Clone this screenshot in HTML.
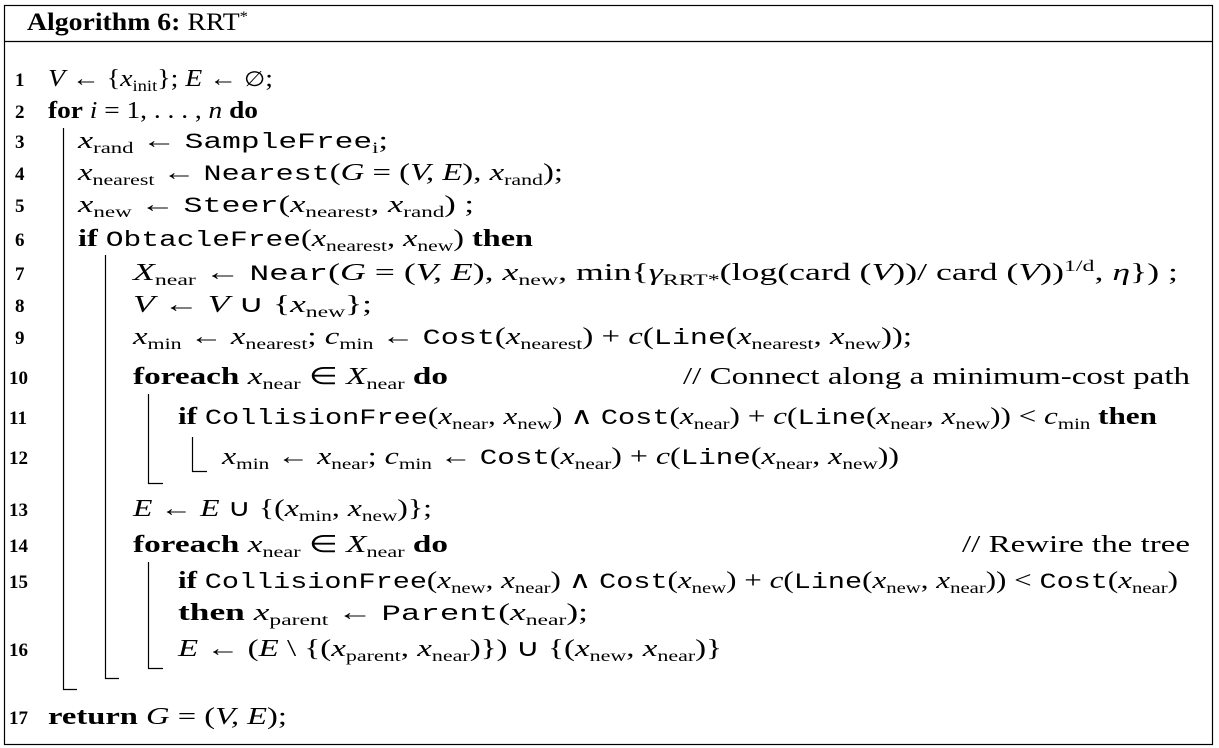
<!DOCTYPE html>
<html><head><meta charset="utf-8"><style>
html,body{margin:0;padding:0;background:#fff;}
svg{display:block}
text{font-family:"Liberation Serif",serif;font-size:24px;fill:#000}
.m{font-style:italic}
.t{font-family:"Liberation Mono",monospace;font-style:normal;font-size:22px}
.b{font-weight:bold;font-style:normal}
.r{font-style:normal}
.s{font-size:16px;font-style:normal}
.n{font-weight:bold;font-size:19px}
.e{font-family:"DejaVu Serif",serif;font-size:21px}
</style></head><body>
<svg width="1219" height="748" viewBox="0 0 1219 748" xmlns="http://www.w3.org/2000/svg">
<rect x="4.5" y="5.5" width="1208" height="739" fill="none" stroke="#000" stroke-width="1.2"/>
<line x1="4" y1="41.5" x2="1213" y2="41.5" stroke="#000" stroke-width="1.2"/>
<g stroke="#000" stroke-width="1.2" fill="none">
<polyline points="63.5,128 63.5,689.5 77,689.5"/>
<polyline points="105.5,255 105.5,678.5 119,678.5"/>
<polyline points="148.5,394 148.5,483.5 163,483.5"/>
<polyline points="192.5,437 192.5,471.5 207,471.5"/>
<polyline points="148.5,562 148.5,668.5 163,668.5"/>
</g>
<text x="27" y="30" style="font-size:25px" textLength="221" lengthAdjust="spacingAndGlyphs"><tspan class="b">Algorithm 6:</tspan> RRT<tspan dy="-9" font-size="15">*</tspan></text>

<text class="n" x="15" y="86">1</text>
<text class="n" x="15" y="118">2</text>
<text class="n" x="15" y="148">3</text>
<text class="n" x="15" y="180">4</text>
<text class="n" x="15" y="212">5</text>
<text class="n" x="15" y="246">6</text>
<text class="n" x="15" y="280">7</text>
<text class="n" x="15" y="312">8</text>
<text class="n" x="15" y="344">9</text>
<text class="n" x="9" y="384">10</text>
<text class="n" x="9" y="424">11</text>
<text class="n" x="9" y="464">12</text>
<text class="n" x="9" y="516">13</text>
<text class="n" x="9" y="552">14</text>
<text class="n" x="9" y="588">15</text>
<text class="n" x="9" y="656">16</text>
<text class="n" x="9" y="724">17</text>

<text x="48" y="86" textLength="225" lengthAdjust="spacingAndGlyphs"><tspan class="m">V</tspan> ← {<tspan class="m">x</tspan><tspan class="s" dy="5">init</tspan><tspan dy="-5">}; </tspan><tspan class="m">E</tspan> ← <tspan class="e">∅</tspan>;</text>
<text x="48" y="118" textLength="210" lengthAdjust="spacingAndGlyphs"><tspan class="b">for</tspan> <tspan class="m">i</tspan> = 1, . . . , <tspan class="m">n</tspan> <tspan class="b">do</tspan></text>
<text x="78" y="148" textLength="310" lengthAdjust="spacingAndGlyphs"><tspan class="m">x</tspan><tspan class="s" dy="5">rand</tspan><tspan dy="-5"> ← </tspan><tspan class="t">SampleFree</tspan><tspan class="s m" dy="5">i</tspan><tspan dy="-5">;</tspan></text>
<text x="78" y="180" textLength="485" lengthAdjust="spacingAndGlyphs"><tspan class="m">x</tspan><tspan class="s" dy="5">nearest</tspan><tspan dy="-5"> ← </tspan><tspan class="t">Nearest</tspan>(<tspan class="m">G</tspan> = (<tspan class="m">V, E</tspan>), <tspan class="m">x</tspan><tspan class="s" dy="5">rand</tspan><tspan dy="-5">);</tspan></text>
<text x="78" y="212" textLength="396" lengthAdjust="spacingAndGlyphs"><tspan class="m">x</tspan><tspan class="s" dy="5">new</tspan><tspan dy="-5"> ← </tspan><tspan class="t">Steer</tspan>(<tspan class="m">x</tspan><tspan class="s" dy="5">nearest</tspan><tspan dy="-5">, </tspan><tspan class="m">x</tspan><tspan class="s" dy="5">rand</tspan><tspan dy="-5">) ;</tspan></text>
<text x="78" y="246" textLength="455" lengthAdjust="spacingAndGlyphs"><tspan class="b">if</tspan> <tspan class="t">ObtacleFree</tspan>(<tspan class="m">x</tspan><tspan class="s" dy="5">nearest</tspan><tspan dy="-5">, </tspan><tspan class="m">x</tspan><tspan class="s" dy="5">new</tspan><tspan dy="-5">) </tspan><tspan class="b">then</tspan></text>
<text x="133" y="280" textLength="1045" lengthAdjust="spacingAndGlyphs"><tspan class="m">X</tspan><tspan class="s" dy="5">near</tspan><tspan dy="-5"> ← </tspan><tspan class="t">Near</tspan>(<tspan class="m">G</tspan> = (<tspan class="m">V, E</tspan>), <tspan class="m">x</tspan><tspan class="s" dy="5">new</tspan><tspan dy="-5">, min{</tspan><tspan class="m">γ</tspan><tspan class="s" dy="5">RRT*</tspan><tspan dy="-5">(log(card (</tspan><tspan class="m">V</tspan>))/ card (<tspan class="m">V</tspan>))<tspan class="s" dy="-9">1/</tspan><tspan class="s m">d</tspan><tspan dy="9">, </tspan><tspan class="m">η</tspan>}) ;</text>
<text x="133" y="312" textLength="239" lengthAdjust="spacingAndGlyphs"><tspan class="m">V</tspan> ← <tspan class="m">V</tspan> ∪ {<tspan class="m">x</tspan><tspan class="s" dy="5">new</tspan><tspan dy="-5">};</tspan></text>
<text x="133" y="344" textLength="779" lengthAdjust="spacingAndGlyphs"><tspan class="m">x</tspan><tspan class="s" dy="5">min</tspan><tspan dy="-5"> ← </tspan><tspan class="m">x</tspan><tspan class="s" dy="5">nearest</tspan><tspan dy="-5">; </tspan><tspan class="m">c</tspan><tspan class="s" dy="5">min</tspan><tspan dy="-5"> ← </tspan><tspan class="t">Cost</tspan>(<tspan class="m">x</tspan><tspan class="s" dy="5">nearest</tspan><tspan dy="-5">) + </tspan><tspan class="m">c</tspan>(<tspan class="t">Line</tspan>(<tspan class="m">x</tspan><tspan class="s" dy="5">nearest</tspan><tspan dy="-5">, </tspan><tspan class="m">x</tspan><tspan class="s" dy="5">new</tspan><tspan dy="-5">));</tspan></text>
<text x="133" y="384" textLength="315" lengthAdjust="spacingAndGlyphs"><tspan class="b">foreach</tspan> <tspan class="m">x</tspan><tspan class="s" dy="5">near</tspan><tspan dy="-5"> ∈ </tspan><tspan class="m">X</tspan><tspan class="s" dy="5">near</tspan><tspan dy="-5"> </tspan><tspan class="b">do</tspan></text>
<text x="683" y="384" textLength="507" lengthAdjust="spacingAndGlyphs">// Connect along a minimum-cost path</text>
<text x="178" y="424" textLength="979" lengthAdjust="spacingAndGlyphs"><tspan class="b">if</tspan> <tspan class="t">CollisionFree</tspan>(<tspan class="m">x</tspan><tspan class="s" dy="5">near</tspan><tspan dy="-5">, </tspan><tspan class="m">x</tspan><tspan class="s" dy="5">new</tspan><tspan dy="-5">) ∧ </tspan><tspan class="t">Cost</tspan>(<tspan class="m">x</tspan><tspan class="s" dy="5">near</tspan><tspan dy="-5">) + </tspan><tspan class="m">c</tspan>(<tspan class="t">Line</tspan>(<tspan class="m">x</tspan><tspan class="s" dy="5">near</tspan><tspan dy="-5">, </tspan><tspan class="m">x</tspan><tspan class="s" dy="5">new</tspan><tspan dy="-5">)) &lt; </tspan><tspan class="m">c</tspan><tspan class="s" dy="5">min</tspan><tspan dy="-5"> </tspan><tspan class="b">then</tspan></text>
<text x="222" y="464" textLength="677" lengthAdjust="spacingAndGlyphs"><tspan class="m">x</tspan><tspan class="s" dy="5">min</tspan><tspan dy="-5"> ← </tspan><tspan class="m">x</tspan><tspan class="s" dy="5">near</tspan><tspan dy="-5">; </tspan><tspan class="m">c</tspan><tspan class="s" dy="5">min</tspan><tspan dy="-5"> ← </tspan><tspan class="t">Cost</tspan>(<tspan class="m">x</tspan><tspan class="s" dy="5">near</tspan><tspan dy="-5">) + </tspan><tspan class="m">c</tspan>(<tspan class="t">Line</tspan>(<tspan class="m">x</tspan><tspan class="s" dy="5">near</tspan><tspan dy="-5">, </tspan><tspan class="m">x</tspan><tspan class="s" dy="5">new</tspan><tspan dy="-5">))</tspan></text>
<text x="133" y="516" textLength="299" lengthAdjust="spacingAndGlyphs"><tspan class="m">E</tspan> ← <tspan class="m">E</tspan> ∪ {(<tspan class="m">x</tspan><tspan class="s" dy="5">min</tspan><tspan dy="-5">, </tspan><tspan class="m">x</tspan><tspan class="s" dy="5">new</tspan><tspan dy="-5">)};</tspan></text>
<text x="133" y="552" textLength="315" lengthAdjust="spacingAndGlyphs"><tspan class="b">foreach</tspan> <tspan class="m">x</tspan><tspan class="s" dy="5">near</tspan><tspan dy="-5"> ∈ </tspan><tspan class="m">X</tspan><tspan class="s" dy="5">near</tspan><tspan dy="-5"> </tspan><tspan class="b">do</tspan></text>
<text x="962" y="552" textLength="228" lengthAdjust="spacingAndGlyphs">// Rewire the tree</text>
<text x="178" y="588" textLength="1000" lengthAdjust="spacingAndGlyphs"><tspan class="b">if</tspan> <tspan class="t">CollisionFree</tspan>(<tspan class="m">x</tspan><tspan class="s" dy="5">new</tspan><tspan dy="-5">, </tspan><tspan class="m">x</tspan><tspan class="s" dy="5">near</tspan><tspan dy="-5">) ∧ </tspan><tspan class="t">Cost</tspan>(<tspan class="m">x</tspan><tspan class="s" dy="5">new</tspan><tspan dy="-5">) + </tspan><tspan class="m">c</tspan>(<tspan class="t">Line</tspan>(<tspan class="m">x</tspan><tspan class="s" dy="5">new</tspan><tspan dy="-5">, </tspan><tspan class="m">x</tspan><tspan class="s" dy="5">near</tspan><tspan dy="-5">)) &lt; </tspan><tspan class="t">Cost</tspan>(<tspan class="m">x</tspan><tspan class="s" dy="5">near</tspan><tspan dy="-5">)</tspan></text>
<text x="178" y="620" textLength="410" lengthAdjust="spacingAndGlyphs"><tspan class="b">then</tspan>  <tspan class="m">x</tspan><tspan class="s" dy="5">parent</tspan><tspan dy="-5"> ← </tspan><tspan class="t">Parent</tspan>(<tspan class="m">x</tspan><tspan class="s" dy="5">near</tspan><tspan dy="-5">);</tspan></text>
<text x="178" y="656" textLength="544" lengthAdjust="spacingAndGlyphs"><tspan class="m">E</tspan> ← (<tspan class="m">E</tspan> \ {(<tspan class="m">x</tspan><tspan class="s" dy="5">parent</tspan><tspan dy="-5">, </tspan><tspan class="m">x</tspan><tspan class="s" dy="5">near</tspan><tspan dy="-5">)}) ∪ {(</tspan><tspan class="m">x</tspan><tspan class="s" dy="5">new</tspan><tspan dy="-5">, </tspan><tspan class="m">x</tspan><tspan class="s" dy="5">near</tspan><tspan dy="-5">)}</tspan></text>
<text x="48" y="724" textLength="239" lengthAdjust="spacingAndGlyphs"><tspan class="b">return</tspan> <tspan class="m">G</tspan> = (<tspan class="m">V, E</tspan>);</text>
</svg>
</body></html>
